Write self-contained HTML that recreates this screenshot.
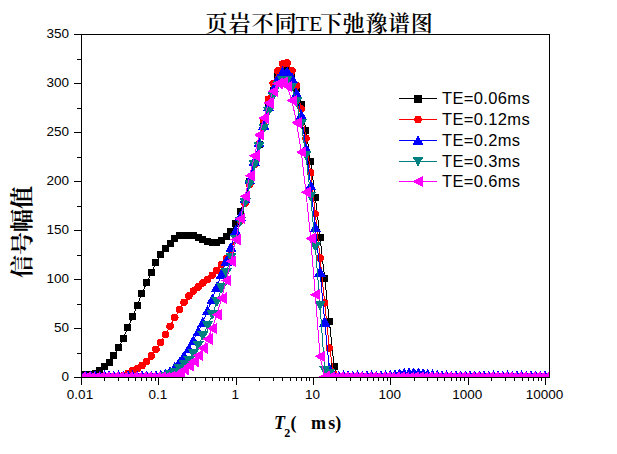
<!DOCTYPE html>
<html><head><meta charset="utf-8"><style>
html,body{margin:0;padding:0;background:#fff;}
body{width:617px;height:454px;overflow:hidden;}
svg{display:block;}
.tl{font-family:"Liberation Sans",Arial,sans-serif;font-size:13.5px;fill:#000;}
.lg{font-family:"Liberation Sans",Arial,sans-serif;font-size:16.5px;letter-spacing:0.35px;fill:#000;}
.ti{font-family:"Liberation Serif","Noto Serif CJK SC",serif;font-size:22px;font-weight:600;fill:#000;}
.yl{font-family:"Liberation Serif","Noto Serif CJK SC",serif;font-size:23px;font-weight:bold;fill:#000;}
.xl{font-family:"Liberation Serif","Noto Serif CJK SC",serif;font-size:18px;font-weight:bold;fill:#000;}
</style></head><body>
<svg width="617" height="454" viewBox="0 0 617 454">
<rect width="617" height="454" fill="#fff"/>
<defs><clipPath id="pa"><rect x="81" y="34" width="469" height="343.5"/></clipPath></defs>
<g clip-path="url(#pa)" shape-rendering="crispEdges">
<polyline points="81.00,374.56 85.69,374.46 90.37,374.17 95.06,373.38 99.75,370.64 104.43,366.62 109.12,362.11 113.81,355.45 118.49,347.51 123.18,338.50 127.87,327.91 132.56,316.84 137.24,305.37 141.93,293.22 146.62,282.93 151.30,272.64 155.99,262.84 160.68,254.41 165.36,248.14 170.05,243.24 174.74,238.73 179.42,235.89 184.11,235.11 188.80,235.11 193.48,235.89 198.17,237.36 202.86,239.32 207.55,241.77 212.23,242.75 216.92,242.46 221.61,240.30 226.29,236.38 230.98,231.48 235.67,223.64 240.35,211.88 245.04,198.16 249.73,181.50 254.41,163.86 259.10,144.26 263.79,125.64 268.47,107.02 273.16,90.36 277.85,76.64 282.54,70.76 287.22,70.76 291.91,76.64 296.60,88.40 301.28,104.08 305.97,130.54 310.66,161.90 315.34,197.18 320.03,237.36 324.72,278.52 329.40,321.64 334.09,366.72 338.78,376.52 343.46,378.48 348.15,378.48 352.84,378.48 357.53,378.48 362.21,378.48 366.90,378.48 371.59,378.48 376.27,378.48 380.96,378.48 385.65,378.48 390.33,378.48 395.02,378.48 399.71,378.48 404.39,378.48 409.08,378.48 413.77,378.48 418.45,378.48 423.14,378.48 427.83,378.48 432.52,378.48 437.20,378.48 441.89,378.48 446.58,378.48 451.26,378.48 455.95,378.48 460.64,378.48 465.32,378.48 470.01,378.48 474.70,378.48 479.38,378.48 484.07,378.48 488.76,378.48 493.44,378.48 498.13,378.48 502.82,378.48 507.51,378.48 512.19,378.48 516.88,378.48 521.57,378.48 526.25,378.48 530.94,378.48 535.63,378.48 540.31,378.48 545.00,378.48" fill="none" stroke="#000000" stroke-width="1"/>
<rect x="77.50" y="371.06" width="7" height="7" fill="#000000"/>
<rect x="82.19" y="370.96" width="7" height="7" fill="#000000"/>
<rect x="86.87" y="370.67" width="7" height="7" fill="#000000"/>
<rect x="91.56" y="369.88" width="7" height="7" fill="#000000"/>
<rect x="96.25" y="367.14" width="7" height="7" fill="#000000"/>
<rect x="100.93" y="363.12" width="7" height="7" fill="#000000"/>
<rect x="105.62" y="358.61" width="7" height="7" fill="#000000"/>
<rect x="110.31" y="351.95" width="7" height="7" fill="#000000"/>
<rect x="114.99" y="344.01" width="7" height="7" fill="#000000"/>
<rect x="119.68" y="335.00" width="7" height="7" fill="#000000"/>
<rect x="124.37" y="324.41" width="7" height="7" fill="#000000"/>
<rect x="129.06" y="313.34" width="7" height="7" fill="#000000"/>
<rect x="133.74" y="301.87" width="7" height="7" fill="#000000"/>
<rect x="138.43" y="289.72" width="7" height="7" fill="#000000"/>
<rect x="143.12" y="279.43" width="7" height="7" fill="#000000"/>
<rect x="147.80" y="269.14" width="7" height="7" fill="#000000"/>
<rect x="152.49" y="259.34" width="7" height="7" fill="#000000"/>
<rect x="157.18" y="250.91" width="7" height="7" fill="#000000"/>
<rect x="161.86" y="244.64" width="7" height="7" fill="#000000"/>
<rect x="166.55" y="239.74" width="7" height="7" fill="#000000"/>
<rect x="171.24" y="235.23" width="7" height="7" fill="#000000"/>
<rect x="175.92" y="232.39" width="7" height="7" fill="#000000"/>
<rect x="180.61" y="231.61" width="7" height="7" fill="#000000"/>
<rect x="185.30" y="231.61" width="7" height="7" fill="#000000"/>
<rect x="189.98" y="232.39" width="7" height="7" fill="#000000"/>
<rect x="194.67" y="233.86" width="7" height="7" fill="#000000"/>
<rect x="199.36" y="235.82" width="7" height="7" fill="#000000"/>
<rect x="204.05" y="238.27" width="7" height="7" fill="#000000"/>
<rect x="208.73" y="239.25" width="7" height="7" fill="#000000"/>
<rect x="213.42" y="238.96" width="7" height="7" fill="#000000"/>
<rect x="218.11" y="236.80" width="7" height="7" fill="#000000"/>
<rect x="222.79" y="232.88" width="7" height="7" fill="#000000"/>
<rect x="227.48" y="227.98" width="7" height="7" fill="#000000"/>
<rect x="232.17" y="220.14" width="7" height="7" fill="#000000"/>
<rect x="236.85" y="208.38" width="7" height="7" fill="#000000"/>
<rect x="241.54" y="194.66" width="7" height="7" fill="#000000"/>
<rect x="246.23" y="178.00" width="7" height="7" fill="#000000"/>
<rect x="250.91" y="160.36" width="7" height="7" fill="#000000"/>
<rect x="255.60" y="140.76" width="7" height="7" fill="#000000"/>
<rect x="260.29" y="122.14" width="7" height="7" fill="#000000"/>
<rect x="264.97" y="103.52" width="7" height="7" fill="#000000"/>
<rect x="269.66" y="86.86" width="7" height="7" fill="#000000"/>
<rect x="274.35" y="73.14" width="7" height="7" fill="#000000"/>
<rect x="279.04" y="67.26" width="7" height="7" fill="#000000"/>
<rect x="283.72" y="67.26" width="7" height="7" fill="#000000"/>
<rect x="288.41" y="73.14" width="7" height="7" fill="#000000"/>
<rect x="293.10" y="84.90" width="7" height="7" fill="#000000"/>
<rect x="297.78" y="100.58" width="7" height="7" fill="#000000"/>
<rect x="302.47" y="127.04" width="7" height="7" fill="#000000"/>
<rect x="307.16" y="158.40" width="7" height="7" fill="#000000"/>
<rect x="311.84" y="193.68" width="7" height="7" fill="#000000"/>
<rect x="316.53" y="233.86" width="7" height="7" fill="#000000"/>
<rect x="321.22" y="275.02" width="7" height="7" fill="#000000"/>
<rect x="325.90" y="318.14" width="7" height="7" fill="#000000"/>
<rect x="330.59" y="363.22" width="7" height="7" fill="#000000"/>
<rect x="335.28" y="373.02" width="7" height="7" fill="#000000"/>
<rect x="339.96" y="374.98" width="7" height="7" fill="#000000"/>
<rect x="344.65" y="374.98" width="7" height="7" fill="#000000"/>
<rect x="349.34" y="374.98" width="7" height="7" fill="#000000"/>
<rect x="354.03" y="374.98" width="7" height="7" fill="#000000"/>
<rect x="358.71" y="374.98" width="7" height="7" fill="#000000"/>
<rect x="363.40" y="374.98" width="7" height="7" fill="#000000"/>
<rect x="368.09" y="374.98" width="7" height="7" fill="#000000"/>
<rect x="372.77" y="374.98" width="7" height="7" fill="#000000"/>
<rect x="377.46" y="374.98" width="7" height="7" fill="#000000"/>
<rect x="382.15" y="374.98" width="7" height="7" fill="#000000"/>
<rect x="386.83" y="374.98" width="7" height="7" fill="#000000"/>
<rect x="391.52" y="374.98" width="7" height="7" fill="#000000"/>
<rect x="396.21" y="374.98" width="7" height="7" fill="#000000"/>
<rect x="400.89" y="374.98" width="7" height="7" fill="#000000"/>
<rect x="405.58" y="374.98" width="7" height="7" fill="#000000"/>
<rect x="410.27" y="374.98" width="7" height="7" fill="#000000"/>
<rect x="414.95" y="374.98" width="7" height="7" fill="#000000"/>
<rect x="419.64" y="374.98" width="7" height="7" fill="#000000"/>
<rect x="424.33" y="374.98" width="7" height="7" fill="#000000"/>
<rect x="429.02" y="374.98" width="7" height="7" fill="#000000"/>
<rect x="433.70" y="374.98" width="7" height="7" fill="#000000"/>
<rect x="438.39" y="374.98" width="7" height="7" fill="#000000"/>
<rect x="443.08" y="374.98" width="7" height="7" fill="#000000"/>
<rect x="447.76" y="374.98" width="7" height="7" fill="#000000"/>
<rect x="452.45" y="374.98" width="7" height="7" fill="#000000"/>
<rect x="457.14" y="374.98" width="7" height="7" fill="#000000"/>
<rect x="461.82" y="374.98" width="7" height="7" fill="#000000"/>
<rect x="466.51" y="374.98" width="7" height="7" fill="#000000"/>
<rect x="471.20" y="374.98" width="7" height="7" fill="#000000"/>
<rect x="475.88" y="374.98" width="7" height="7" fill="#000000"/>
<rect x="480.57" y="374.98" width="7" height="7" fill="#000000"/>
<rect x="485.26" y="374.98" width="7" height="7" fill="#000000"/>
<rect x="489.94" y="374.98" width="7" height="7" fill="#000000"/>
<rect x="494.63" y="374.98" width="7" height="7" fill="#000000"/>
<rect x="499.32" y="374.98" width="7" height="7" fill="#000000"/>
<rect x="504.01" y="374.98" width="7" height="7" fill="#000000"/>
<rect x="508.69" y="374.98" width="7" height="7" fill="#000000"/>
<rect x="513.38" y="374.98" width="7" height="7" fill="#000000"/>
<rect x="518.07" y="374.98" width="7" height="7" fill="#000000"/>
<rect x="522.75" y="374.98" width="7" height="7" fill="#000000"/>
<rect x="527.44" y="374.98" width="7" height="7" fill="#000000"/>
<rect x="532.13" y="374.98" width="7" height="7" fill="#000000"/>
<rect x="536.81" y="374.98" width="7" height="7" fill="#000000"/>
<rect x="541.50" y="374.98" width="7" height="7" fill="#000000"/>
<polyline points="81.00,378.48 85.69,378.48 90.37,378.48 95.06,378.48 99.75,378.48 104.43,378.48 109.12,378.48 113.81,378.48 118.49,378.48 123.18,376.03 127.87,373.58 132.56,370.84 137.24,368.78 141.93,365.54 146.62,361.53 151.30,355.94 155.99,349.28 160.68,342.32 165.36,334.38 170.05,326.25 174.74,317.52 179.42,309.68 184.11,302.33 188.80,295.96 193.48,290.97 198.17,286.95 202.86,282.83 207.55,279.50 212.23,275.29 216.92,270.39 221.61,264.60 226.29,258.92 230.98,250.10 235.67,237.36 240.35,220.70 245.04,203.06 249.73,184.44 254.41,164.84 259.10,144.26 263.79,120.74 268.47,99.18 273.16,83.50 277.85,70.76 282.54,63.90 287.22,62.92 291.91,70.76 296.60,85.46 301.28,108.98 305.97,138.38 310.66,172.68 315.34,213.84 320.03,257.94 324.72,303.02 329.40,348.10 334.09,374.56 338.78,378.48 343.46,378.48 348.15,378.48 352.84,378.48 357.53,378.48 362.21,378.48 366.90,378.48 371.59,378.48 376.27,378.48 380.96,378.48 385.65,378.48 390.33,378.48 395.02,378.48 399.71,378.48 404.39,378.48 409.08,378.48 413.77,378.48 418.45,378.48 423.14,378.48 427.83,378.48 432.52,378.48 437.20,378.48 441.89,378.48 446.58,378.48 451.26,378.48 455.95,378.48 460.64,378.48 465.32,378.48 470.01,378.48 474.70,378.48 479.38,378.48 484.07,378.48 488.76,378.48 493.44,378.48 498.13,378.48 502.82,378.48 507.51,378.48 512.19,378.48 516.88,378.48 521.57,378.48 526.25,378.48 530.94,378.48 535.63,378.48 540.31,378.48 545.00,378.48" fill="none" stroke="#ff0000" stroke-width="1"/>
<circle cx="81.00" cy="378.48" r="3.8" fill="#ff0000"/>
<circle cx="85.69" cy="378.48" r="3.8" fill="#ff0000"/>
<circle cx="90.37" cy="378.48" r="3.8" fill="#ff0000"/>
<circle cx="95.06" cy="378.48" r="3.8" fill="#ff0000"/>
<circle cx="99.75" cy="378.48" r="3.8" fill="#ff0000"/>
<circle cx="104.43" cy="378.48" r="3.8" fill="#ff0000"/>
<circle cx="109.12" cy="378.48" r="3.8" fill="#ff0000"/>
<circle cx="113.81" cy="378.48" r="3.8" fill="#ff0000"/>
<circle cx="118.49" cy="378.48" r="3.8" fill="#ff0000"/>
<circle cx="123.18" cy="376.03" r="3.8" fill="#ff0000"/>
<circle cx="127.87" cy="373.58" r="3.8" fill="#ff0000"/>
<circle cx="132.56" cy="370.84" r="3.8" fill="#ff0000"/>
<circle cx="137.24" cy="368.78" r="3.8" fill="#ff0000"/>
<circle cx="141.93" cy="365.54" r="3.8" fill="#ff0000"/>
<circle cx="146.62" cy="361.53" r="3.8" fill="#ff0000"/>
<circle cx="151.30" cy="355.94" r="3.8" fill="#ff0000"/>
<circle cx="155.99" cy="349.28" r="3.8" fill="#ff0000"/>
<circle cx="160.68" cy="342.32" r="3.8" fill="#ff0000"/>
<circle cx="165.36" cy="334.38" r="3.8" fill="#ff0000"/>
<circle cx="170.05" cy="326.25" r="3.8" fill="#ff0000"/>
<circle cx="174.74" cy="317.52" r="3.8" fill="#ff0000"/>
<circle cx="179.42" cy="309.68" r="3.8" fill="#ff0000"/>
<circle cx="184.11" cy="302.33" r="3.8" fill="#ff0000"/>
<circle cx="188.80" cy="295.96" r="3.8" fill="#ff0000"/>
<circle cx="193.48" cy="290.97" r="3.8" fill="#ff0000"/>
<circle cx="198.17" cy="286.95" r="3.8" fill="#ff0000"/>
<circle cx="202.86" cy="282.83" r="3.8" fill="#ff0000"/>
<circle cx="207.55" cy="279.50" r="3.8" fill="#ff0000"/>
<circle cx="212.23" cy="275.29" r="3.8" fill="#ff0000"/>
<circle cx="216.92" cy="270.39" r="3.8" fill="#ff0000"/>
<circle cx="221.61" cy="264.60" r="3.8" fill="#ff0000"/>
<circle cx="226.29" cy="258.92" r="3.8" fill="#ff0000"/>
<circle cx="230.98" cy="250.10" r="3.8" fill="#ff0000"/>
<circle cx="235.67" cy="237.36" r="3.8" fill="#ff0000"/>
<circle cx="240.35" cy="220.70" r="3.8" fill="#ff0000"/>
<circle cx="245.04" cy="203.06" r="3.8" fill="#ff0000"/>
<circle cx="249.73" cy="184.44" r="3.8" fill="#ff0000"/>
<circle cx="254.41" cy="164.84" r="3.8" fill="#ff0000"/>
<circle cx="259.10" cy="144.26" r="3.8" fill="#ff0000"/>
<circle cx="263.79" cy="120.74" r="3.8" fill="#ff0000"/>
<circle cx="268.47" cy="99.18" r="3.8" fill="#ff0000"/>
<circle cx="273.16" cy="83.50" r="3.8" fill="#ff0000"/>
<circle cx="277.85" cy="70.76" r="3.8" fill="#ff0000"/>
<circle cx="282.54" cy="63.90" r="3.8" fill="#ff0000"/>
<circle cx="287.22" cy="62.92" r="3.8" fill="#ff0000"/>
<circle cx="291.91" cy="70.76" r="3.8" fill="#ff0000"/>
<circle cx="296.60" cy="85.46" r="3.8" fill="#ff0000"/>
<circle cx="301.28" cy="108.98" r="3.8" fill="#ff0000"/>
<circle cx="305.97" cy="138.38" r="3.8" fill="#ff0000"/>
<circle cx="310.66" cy="172.68" r="3.8" fill="#ff0000"/>
<circle cx="315.34" cy="213.84" r="3.8" fill="#ff0000"/>
<circle cx="320.03" cy="257.94" r="3.8" fill="#ff0000"/>
<circle cx="324.72" cy="303.02" r="3.8" fill="#ff0000"/>
<circle cx="329.40" cy="348.10" r="3.8" fill="#ff0000"/>
<circle cx="334.09" cy="374.56" r="3.8" fill="#ff0000"/>
<circle cx="338.78" cy="378.48" r="3.8" fill="#ff0000"/>
<circle cx="343.46" cy="378.48" r="3.8" fill="#ff0000"/>
<circle cx="348.15" cy="378.48" r="3.8" fill="#ff0000"/>
<circle cx="352.84" cy="378.48" r="3.8" fill="#ff0000"/>
<circle cx="357.53" cy="378.48" r="3.8" fill="#ff0000"/>
<circle cx="362.21" cy="378.48" r="3.8" fill="#ff0000"/>
<circle cx="366.90" cy="378.48" r="3.8" fill="#ff0000"/>
<circle cx="371.59" cy="378.48" r="3.8" fill="#ff0000"/>
<circle cx="376.27" cy="378.48" r="3.8" fill="#ff0000"/>
<circle cx="380.96" cy="378.48" r="3.8" fill="#ff0000"/>
<circle cx="385.65" cy="378.48" r="3.8" fill="#ff0000"/>
<circle cx="390.33" cy="378.48" r="3.8" fill="#ff0000"/>
<circle cx="395.02" cy="378.48" r="3.8" fill="#ff0000"/>
<circle cx="399.71" cy="378.48" r="3.8" fill="#ff0000"/>
<circle cx="404.39" cy="378.48" r="3.8" fill="#ff0000"/>
<circle cx="409.08" cy="378.48" r="3.8" fill="#ff0000"/>
<circle cx="413.77" cy="378.48" r="3.8" fill="#ff0000"/>
<circle cx="418.45" cy="378.48" r="3.8" fill="#ff0000"/>
<circle cx="423.14" cy="378.48" r="3.8" fill="#ff0000"/>
<circle cx="427.83" cy="378.48" r="3.8" fill="#ff0000"/>
<circle cx="432.52" cy="378.48" r="3.8" fill="#ff0000"/>
<circle cx="437.20" cy="378.48" r="3.8" fill="#ff0000"/>
<circle cx="441.89" cy="378.48" r="3.8" fill="#ff0000"/>
<circle cx="446.58" cy="378.48" r="3.8" fill="#ff0000"/>
<circle cx="451.26" cy="378.48" r="3.8" fill="#ff0000"/>
<circle cx="455.95" cy="378.48" r="3.8" fill="#ff0000"/>
<circle cx="460.64" cy="378.48" r="3.8" fill="#ff0000"/>
<circle cx="465.32" cy="378.48" r="3.8" fill="#ff0000"/>
<circle cx="470.01" cy="378.48" r="3.8" fill="#ff0000"/>
<circle cx="474.70" cy="378.48" r="3.8" fill="#ff0000"/>
<circle cx="479.38" cy="378.48" r="3.8" fill="#ff0000"/>
<circle cx="484.07" cy="378.48" r="3.8" fill="#ff0000"/>
<circle cx="488.76" cy="378.48" r="3.8" fill="#ff0000"/>
<circle cx="493.44" cy="378.48" r="3.8" fill="#ff0000"/>
<circle cx="498.13" cy="378.48" r="3.8" fill="#ff0000"/>
<circle cx="502.82" cy="378.48" r="3.8" fill="#ff0000"/>
<circle cx="507.51" cy="378.48" r="3.8" fill="#ff0000"/>
<circle cx="512.19" cy="378.48" r="3.8" fill="#ff0000"/>
<circle cx="516.88" cy="378.48" r="3.8" fill="#ff0000"/>
<circle cx="521.57" cy="378.48" r="3.8" fill="#ff0000"/>
<circle cx="526.25" cy="378.48" r="3.8" fill="#ff0000"/>
<circle cx="530.94" cy="378.48" r="3.8" fill="#ff0000"/>
<circle cx="535.63" cy="378.48" r="3.8" fill="#ff0000"/>
<circle cx="540.31" cy="378.48" r="3.8" fill="#ff0000"/>
<circle cx="545.00" cy="378.48" r="3.8" fill="#ff0000"/>
<polyline points="81.00,375.74 85.69,375.74 90.37,375.74 95.06,375.74 99.75,375.74 104.43,375.74 109.12,375.74 113.81,375.74 118.49,375.74 123.18,375.74 127.87,375.74 132.56,375.74 137.24,375.74 141.93,375.74 146.62,375.74 151.30,375.74 155.99,375.74 160.68,375.34 165.36,374.07 170.05,371.13 174.74,367.21 179.42,362.31 184.11,355.94 188.80,348.59 193.48,340.26 198.17,331.44 202.86,322.13 207.55,310.47 212.23,299.10 216.92,286.75 221.61,273.62 226.29,260.88 230.98,247.16 235.67,230.50 240.35,215.80 245.04,198.16 249.73,179.54 254.41,160.92 259.10,142.30 263.79,124.66 268.47,106.04 273.16,89.38 277.85,78.60 282.54,71.74 287.22,71.74 291.91,77.62 296.60,93.30 301.28,114.86 305.97,148.18 310.66,185.42 315.34,227.56 320.03,271.66 324.72,321.64 329.40,368.68 334.09,375.74 338.78,375.74 343.46,375.74 348.15,375.74 352.84,375.74 357.53,375.74 362.21,375.74 366.90,375.74 371.59,375.74 376.27,375.74 380.96,375.74 385.65,375.43 390.33,374.85 395.02,374.21 399.71,373.58 404.39,373.13 409.08,372.80 413.77,372.60 418.45,372.80 423.14,373.31 427.83,373.97 432.52,374.56 437.20,375.15 441.89,375.74 446.58,375.74 451.26,375.74 455.95,375.74 460.64,375.74 465.32,375.74 470.01,375.74 474.70,375.74 479.38,375.74 484.07,375.74 488.76,375.74 493.44,375.74 498.13,375.74 502.82,375.74 507.51,375.74 512.19,375.74 516.88,375.74 521.57,375.74 526.25,375.74 530.94,375.74 535.63,375.74 540.31,375.74 545.00,375.74" fill="none" stroke="#0000ff" stroke-width="1"/>
<path d="M81.00 370.34L86.70 380.64L75.30 380.64Z" fill="#0000ff"/>
<path d="M85.69 370.34L91.39 380.64L79.99 380.64Z" fill="#0000ff"/>
<path d="M90.37 370.34L96.07 380.64L84.67 380.64Z" fill="#0000ff"/>
<path d="M95.06 370.34L100.76 380.64L89.36 380.64Z" fill="#0000ff"/>
<path d="M99.75 370.34L105.45 380.64L94.05 380.64Z" fill="#0000ff"/>
<path d="M104.43 370.34L110.13 380.64L98.73 380.64Z" fill="#0000ff"/>
<path d="M109.12 370.34L114.82 380.64L103.42 380.64Z" fill="#0000ff"/>
<path d="M113.81 370.34L119.51 380.64L108.11 380.64Z" fill="#0000ff"/>
<path d="M118.49 370.34L124.19 380.64L112.79 380.64Z" fill="#0000ff"/>
<path d="M123.18 370.34L128.88 380.64L117.48 380.64Z" fill="#0000ff"/>
<path d="M127.87 370.34L133.57 380.64L122.17 380.64Z" fill="#0000ff"/>
<path d="M132.56 370.34L138.26 380.64L126.86 380.64Z" fill="#0000ff"/>
<path d="M137.24 370.34L142.94 380.64L131.54 380.64Z" fill="#0000ff"/>
<path d="M141.93 370.34L147.63 380.64L136.23 380.64Z" fill="#0000ff"/>
<path d="M146.62 370.34L152.32 380.64L140.92 380.64Z" fill="#0000ff"/>
<path d="M151.30 370.34L157.00 380.64L145.60 380.64Z" fill="#0000ff"/>
<path d="M155.99 370.34L161.69 380.64L150.29 380.64Z" fill="#0000ff"/>
<path d="M160.68 369.94L166.38 380.24L154.98 380.24Z" fill="#0000ff"/>
<path d="M165.36 368.67L171.06 378.97L159.66 378.97Z" fill="#0000ff"/>
<path d="M170.05 365.73L175.75 376.03L164.35 376.03Z" fill="#0000ff"/>
<path d="M174.74 361.81L180.44 372.11L169.04 372.11Z" fill="#0000ff"/>
<path d="M179.42 356.91L185.12 367.21L173.72 367.21Z" fill="#0000ff"/>
<path d="M184.11 350.54L189.81 360.84L178.41 360.84Z" fill="#0000ff"/>
<path d="M188.80 343.19L194.50 353.49L183.10 353.49Z" fill="#0000ff"/>
<path d="M193.48 334.86L199.18 345.16L187.78 345.16Z" fill="#0000ff"/>
<path d="M198.17 326.04L203.87 336.34L192.47 336.34Z" fill="#0000ff"/>
<path d="M202.86 316.73L208.56 327.03L197.16 327.03Z" fill="#0000ff"/>
<path d="M207.55 305.07L213.25 315.37L201.85 315.37Z" fill="#0000ff"/>
<path d="M212.23 293.70L217.93 304.00L206.53 304.00Z" fill="#0000ff"/>
<path d="M216.92 281.35L222.62 291.65L211.22 291.65Z" fill="#0000ff"/>
<path d="M221.61 268.22L227.31 278.52L215.91 278.52Z" fill="#0000ff"/>
<path d="M226.29 255.48L231.99 265.78L220.59 265.78Z" fill="#0000ff"/>
<path d="M230.98 241.76L236.68 252.06L225.28 252.06Z" fill="#0000ff"/>
<path d="M235.67 225.10L241.37 235.40L229.97 235.40Z" fill="#0000ff"/>
<path d="M240.35 210.40L246.05 220.70L234.65 220.70Z" fill="#0000ff"/>
<path d="M245.04 192.76L250.74 203.06L239.34 203.06Z" fill="#0000ff"/>
<path d="M249.73 174.14L255.43 184.44L244.03 184.44Z" fill="#0000ff"/>
<path d="M254.41 155.52L260.11 165.82L248.71 165.82Z" fill="#0000ff"/>
<path d="M259.10 136.90L264.80 147.20L253.40 147.20Z" fill="#0000ff"/>
<path d="M263.79 119.26L269.49 129.56L258.09 129.56Z" fill="#0000ff"/>
<path d="M268.47 100.64L274.17 110.94L262.77 110.94Z" fill="#0000ff"/>
<path d="M273.16 83.98L278.86 94.28L267.46 94.28Z" fill="#0000ff"/>
<path d="M277.85 73.20L283.55 83.50L272.15 83.50Z" fill="#0000ff"/>
<path d="M282.54 66.34L288.24 76.64L276.84 76.64Z" fill="#0000ff"/>
<path d="M287.22 66.34L292.92 76.64L281.52 76.64Z" fill="#0000ff"/>
<path d="M291.91 72.22L297.61 82.52L286.21 82.52Z" fill="#0000ff"/>
<path d="M296.60 87.90L302.30 98.20L290.90 98.20Z" fill="#0000ff"/>
<path d="M301.28 109.46L306.98 119.76L295.58 119.76Z" fill="#0000ff"/>
<path d="M305.97 142.78L311.67 153.08L300.27 153.08Z" fill="#0000ff"/>
<path d="M310.66 180.02L316.36 190.32L304.96 190.32Z" fill="#0000ff"/>
<path d="M315.34 222.16L321.04 232.46L309.64 232.46Z" fill="#0000ff"/>
<path d="M320.03 266.26L325.73 276.56L314.33 276.56Z" fill="#0000ff"/>
<path d="M324.72 316.24L330.42 326.54L319.02 326.54Z" fill="#0000ff"/>
<path d="M329.40 363.28L335.10 373.58L323.70 373.58Z" fill="#0000ff"/>
<path d="M334.09 370.34L339.79 380.64L328.39 380.64Z" fill="#0000ff"/>
<path d="M338.78 370.34L344.48 380.64L333.08 380.64Z" fill="#0000ff"/>
<path d="M343.46 370.34L349.16 380.64L337.76 380.64Z" fill="#0000ff"/>
<path d="M348.15 370.34L353.85 380.64L342.45 380.64Z" fill="#0000ff"/>
<path d="M352.84 370.34L358.54 380.64L347.14 380.64Z" fill="#0000ff"/>
<path d="M357.53 370.34L363.23 380.64L351.83 380.64Z" fill="#0000ff"/>
<path d="M362.21 370.34L367.91 380.64L356.51 380.64Z" fill="#0000ff"/>
<path d="M366.90 370.34L372.60 380.64L361.20 380.64Z" fill="#0000ff"/>
<path d="M371.59 370.34L377.29 380.64L365.89 380.64Z" fill="#0000ff"/>
<path d="M376.27 370.34L381.97 380.64L370.57 380.64Z" fill="#0000ff"/>
<path d="M380.96 370.34L386.66 380.64L375.26 380.64Z" fill="#0000ff"/>
<path d="M385.65 370.03L391.35 380.33L379.95 380.33Z" fill="#0000ff"/>
<path d="M390.33 369.45L396.03 379.75L384.63 379.75Z" fill="#0000ff"/>
<path d="M395.02 368.81L400.72 379.11L389.32 379.11Z" fill="#0000ff"/>
<path d="M399.71 368.18L405.41 378.48L394.01 378.48Z" fill="#0000ff"/>
<path d="M404.39 367.73L410.09 378.03L398.69 378.03Z" fill="#0000ff"/>
<path d="M409.08 367.40L414.78 377.70L403.38 377.70Z" fill="#0000ff"/>
<path d="M413.77 367.20L419.47 377.50L408.07 377.50Z" fill="#0000ff"/>
<path d="M418.45 367.40L424.15 377.70L412.75 377.70Z" fill="#0000ff"/>
<path d="M423.14 367.91L428.84 378.21L417.44 378.21Z" fill="#0000ff"/>
<path d="M427.83 368.57L433.53 378.87L422.13 378.87Z" fill="#0000ff"/>
<path d="M432.52 369.16L438.22 379.46L426.82 379.46Z" fill="#0000ff"/>
<path d="M437.20 369.75L442.90 380.05L431.50 380.05Z" fill="#0000ff"/>
<path d="M441.89 370.34L447.59 380.64L436.19 380.64Z" fill="#0000ff"/>
<path d="M446.58 370.34L452.28 380.64L440.88 380.64Z" fill="#0000ff"/>
<path d="M451.26 370.34L456.96 380.64L445.56 380.64Z" fill="#0000ff"/>
<path d="M455.95 370.34L461.65 380.64L450.25 380.64Z" fill="#0000ff"/>
<path d="M460.64 370.34L466.34 380.64L454.94 380.64Z" fill="#0000ff"/>
<path d="M465.32 370.34L471.02 380.64L459.62 380.64Z" fill="#0000ff"/>
<path d="M470.01 370.34L475.71 380.64L464.31 380.64Z" fill="#0000ff"/>
<path d="M474.70 370.34L480.40 380.64L469.00 380.64Z" fill="#0000ff"/>
<path d="M479.38 370.34L485.08 380.64L473.68 380.64Z" fill="#0000ff"/>
<path d="M484.07 370.34L489.77 380.64L478.37 380.64Z" fill="#0000ff"/>
<path d="M488.76 370.34L494.46 380.64L483.06 380.64Z" fill="#0000ff"/>
<path d="M493.44 370.34L499.14 380.64L487.74 380.64Z" fill="#0000ff"/>
<path d="M498.13 370.34L503.83 380.64L492.43 380.64Z" fill="#0000ff"/>
<path d="M502.82 370.34L508.52 380.64L497.12 380.64Z" fill="#0000ff"/>
<path d="M507.51 370.34L513.21 380.64L501.81 380.64Z" fill="#0000ff"/>
<path d="M512.19 370.34L517.89 380.64L506.49 380.64Z" fill="#0000ff"/>
<path d="M516.88 370.34L522.58 380.64L511.18 380.64Z" fill="#0000ff"/>
<path d="M521.57 370.34L527.27 380.64L515.87 380.64Z" fill="#0000ff"/>
<path d="M526.25 370.34L531.95 380.64L520.55 380.64Z" fill="#0000ff"/>
<path d="M530.94 370.34L536.64 380.64L525.24 380.64Z" fill="#0000ff"/>
<path d="M535.63 370.34L541.33 380.64L529.93 380.64Z" fill="#0000ff"/>
<path d="M540.31 370.34L546.01 380.64L534.61 380.64Z" fill="#0000ff"/>
<path d="M545.00 370.34L550.70 380.64L539.30 380.64Z" fill="#0000ff"/>
<polyline points="81.00,378.97 85.69,378.97 90.37,378.97 95.06,378.97 99.75,378.97 104.43,378.97 109.12,378.97 113.81,378.97 118.49,378.97 123.18,378.97 127.87,378.97 132.56,378.97 137.24,378.97 141.93,378.97 146.62,378.97 151.30,378.97 155.99,378.97 160.68,378.97 165.36,377.01 170.05,375.05 174.74,372.60 179.42,369.17 184.11,364.76 188.80,360.84 193.48,353.98 198.17,345.85 202.86,335.95 207.55,325.95 212.23,314.98 216.92,302.04 221.61,288.32 226.29,273.03 230.98,257.45 235.67,239.52 240.35,221.68 245.04,203.06 249.73,184.44 254.41,165.23 259.10,146.61 263.79,128.58 268.47,111.92 273.16,96.24 277.85,85.46 282.54,80.56 287.22,80.56 291.91,87.42 296.60,102.12 301.28,124.17 305.97,155.73 310.66,196.69 315.34,246.87 320.03,305.67 324.72,370.64 329.40,374.07 334.09,378.97 338.78,378.97 343.46,378.97 348.15,378.97 352.84,378.97 357.53,378.97 362.21,378.97 366.90,378.97 371.59,378.97 376.27,378.97 380.96,378.97 385.65,378.97 390.33,378.97 395.02,378.97 399.71,378.97 404.39,378.97 409.08,378.97 413.77,378.97 418.45,378.97 423.14,378.97 427.83,378.97 432.52,378.97 437.20,378.97 441.89,378.97 446.58,378.97 451.26,378.97 455.95,378.97 460.64,378.97 465.32,378.97 470.01,378.97 474.70,378.97 479.38,378.97 484.07,378.97 488.76,378.97 493.44,378.97 498.13,378.97 502.82,378.97 507.51,378.97 512.19,378.97 516.88,378.97 521.57,378.97 526.25,378.97 530.94,378.97 535.63,378.97 540.31,378.97 545.00,378.97" fill="none" stroke="#008080" stroke-width="1"/>
<path d="M75.30 374.07L86.70 374.07L81.00 383.87Z" fill="#008080"/>
<path d="M79.99 374.07L91.39 374.07L85.69 383.87Z" fill="#008080"/>
<path d="M84.67 374.07L96.07 374.07L90.37 383.87Z" fill="#008080"/>
<path d="M89.36 374.07L100.76 374.07L95.06 383.87Z" fill="#008080"/>
<path d="M94.05 374.07L105.45 374.07L99.75 383.87Z" fill="#008080"/>
<path d="M98.73 374.07L110.13 374.07L104.43 383.87Z" fill="#008080"/>
<path d="M103.42 374.07L114.82 374.07L109.12 383.87Z" fill="#008080"/>
<path d="M108.11 374.07L119.51 374.07L113.81 383.87Z" fill="#008080"/>
<path d="M112.79 374.07L124.19 374.07L118.49 383.87Z" fill="#008080"/>
<path d="M117.48 374.07L128.88 374.07L123.18 383.87Z" fill="#008080"/>
<path d="M122.17 374.07L133.57 374.07L127.87 383.87Z" fill="#008080"/>
<path d="M126.86 374.07L138.26 374.07L132.56 383.87Z" fill="#008080"/>
<path d="M131.54 374.07L142.94 374.07L137.24 383.87Z" fill="#008080"/>
<path d="M136.23 374.07L147.63 374.07L141.93 383.87Z" fill="#008080"/>
<path d="M140.92 374.07L152.32 374.07L146.62 383.87Z" fill="#008080"/>
<path d="M145.60 374.07L157.00 374.07L151.30 383.87Z" fill="#008080"/>
<path d="M150.29 374.07L161.69 374.07L155.99 383.87Z" fill="#008080"/>
<path d="M154.98 374.07L166.38 374.07L160.68 383.87Z" fill="#008080"/>
<path d="M159.66 372.11L171.06 372.11L165.36 381.91Z" fill="#008080"/>
<path d="M164.35 370.15L175.75 370.15L170.05 379.95Z" fill="#008080"/>
<path d="M169.04 367.70L180.44 367.70L174.74 377.50Z" fill="#008080"/>
<path d="M173.72 364.27L185.12 364.27L179.42 374.07Z" fill="#008080"/>
<path d="M178.41 359.86L189.81 359.86L184.11 369.66Z" fill="#008080"/>
<path d="M183.10 355.94L194.50 355.94L188.80 365.74Z" fill="#008080"/>
<path d="M187.78 349.08L199.18 349.08L193.48 358.88Z" fill="#008080"/>
<path d="M192.47 340.95L203.87 340.95L198.17 350.75Z" fill="#008080"/>
<path d="M197.16 331.05L208.56 331.05L202.86 340.85Z" fill="#008080"/>
<path d="M201.85 321.05L213.25 321.05L207.55 330.85Z" fill="#008080"/>
<path d="M206.53 310.08L217.93 310.08L212.23 319.88Z" fill="#008080"/>
<path d="M211.22 297.14L222.62 297.14L216.92 306.94Z" fill="#008080"/>
<path d="M215.91 283.42L227.31 283.42L221.61 293.22Z" fill="#008080"/>
<path d="M220.59 268.13L231.99 268.13L226.29 277.93Z" fill="#008080"/>
<path d="M225.28 252.55L236.68 252.55L230.98 262.35Z" fill="#008080"/>
<path d="M229.97 234.62L241.37 234.62L235.67 244.42Z" fill="#008080"/>
<path d="M234.65 216.78L246.05 216.78L240.35 226.58Z" fill="#008080"/>
<path d="M239.34 198.16L250.74 198.16L245.04 207.96Z" fill="#008080"/>
<path d="M244.03 179.54L255.43 179.54L249.73 189.34Z" fill="#008080"/>
<path d="M248.71 160.33L260.11 160.33L254.41 170.13Z" fill="#008080"/>
<path d="M253.40 141.71L264.80 141.71L259.10 151.51Z" fill="#008080"/>
<path d="M258.09 123.68L269.49 123.68L263.79 133.48Z" fill="#008080"/>
<path d="M262.77 107.02L274.17 107.02L268.47 116.82Z" fill="#008080"/>
<path d="M267.46 91.34L278.86 91.34L273.16 101.14Z" fill="#008080"/>
<path d="M272.15 80.56L283.55 80.56L277.85 90.36Z" fill="#008080"/>
<path d="M276.84 75.66L288.24 75.66L282.54 85.46Z" fill="#008080"/>
<path d="M281.52 75.66L292.92 75.66L287.22 85.46Z" fill="#008080"/>
<path d="M286.21 82.52L297.61 82.52L291.91 92.32Z" fill="#008080"/>
<path d="M290.90 97.22L302.30 97.22L296.60 107.02Z" fill="#008080"/>
<path d="M295.58 119.27L306.98 119.27L301.28 129.07Z" fill="#008080"/>
<path d="M300.27 150.83L311.67 150.83L305.97 160.63Z" fill="#008080"/>
<path d="M304.96 191.79L316.36 191.79L310.66 201.59Z" fill="#008080"/>
<path d="M309.64 241.97L321.04 241.97L315.34 251.77Z" fill="#008080"/>
<path d="M314.33 300.77L325.73 300.77L320.03 310.57Z" fill="#008080"/>
<path d="M319.02 365.74L330.42 365.74L324.72 375.54Z" fill="#008080"/>
<path d="M323.70 369.17L335.10 369.17L329.40 378.97Z" fill="#008080"/>
<path d="M328.39 374.07L339.79 374.07L334.09 383.87Z" fill="#008080"/>
<path d="M333.08 374.07L344.48 374.07L338.78 383.87Z" fill="#008080"/>
<path d="M337.76 374.07L349.16 374.07L343.46 383.87Z" fill="#008080"/>
<path d="M342.45 374.07L353.85 374.07L348.15 383.87Z" fill="#008080"/>
<path d="M347.14 374.07L358.54 374.07L352.84 383.87Z" fill="#008080"/>
<path d="M351.83 374.07L363.23 374.07L357.53 383.87Z" fill="#008080"/>
<path d="M356.51 374.07L367.91 374.07L362.21 383.87Z" fill="#008080"/>
<path d="M361.20 374.07L372.60 374.07L366.90 383.87Z" fill="#008080"/>
<path d="M365.89 374.07L377.29 374.07L371.59 383.87Z" fill="#008080"/>
<path d="M370.57 374.07L381.97 374.07L376.27 383.87Z" fill="#008080"/>
<path d="M375.26 374.07L386.66 374.07L380.96 383.87Z" fill="#008080"/>
<path d="M379.95 374.07L391.35 374.07L385.65 383.87Z" fill="#008080"/>
<path d="M384.63 374.07L396.03 374.07L390.33 383.87Z" fill="#008080"/>
<path d="M389.32 374.07L400.72 374.07L395.02 383.87Z" fill="#008080"/>
<path d="M394.01 374.07L405.41 374.07L399.71 383.87Z" fill="#008080"/>
<path d="M398.69 374.07L410.09 374.07L404.39 383.87Z" fill="#008080"/>
<path d="M403.38 374.07L414.78 374.07L409.08 383.87Z" fill="#008080"/>
<path d="M408.07 374.07L419.47 374.07L413.77 383.87Z" fill="#008080"/>
<path d="M412.75 374.07L424.15 374.07L418.45 383.87Z" fill="#008080"/>
<path d="M417.44 374.07L428.84 374.07L423.14 383.87Z" fill="#008080"/>
<path d="M422.13 374.07L433.53 374.07L427.83 383.87Z" fill="#008080"/>
<path d="M426.82 374.07L438.22 374.07L432.52 383.87Z" fill="#008080"/>
<path d="M431.50 374.07L442.90 374.07L437.20 383.87Z" fill="#008080"/>
<path d="M436.19 374.07L447.59 374.07L441.89 383.87Z" fill="#008080"/>
<path d="M440.88 374.07L452.28 374.07L446.58 383.87Z" fill="#008080"/>
<path d="M445.56 374.07L456.96 374.07L451.26 383.87Z" fill="#008080"/>
<path d="M450.25 374.07L461.65 374.07L455.95 383.87Z" fill="#008080"/>
<path d="M454.94 374.07L466.34 374.07L460.64 383.87Z" fill="#008080"/>
<path d="M459.62 374.07L471.02 374.07L465.32 383.87Z" fill="#008080"/>
<path d="M464.31 374.07L475.71 374.07L470.01 383.87Z" fill="#008080"/>
<path d="M469.00 374.07L480.40 374.07L474.70 383.87Z" fill="#008080"/>
<path d="M473.68 374.07L485.08 374.07L479.38 383.87Z" fill="#008080"/>
<path d="M478.37 374.07L489.77 374.07L484.07 383.87Z" fill="#008080"/>
<path d="M483.06 374.07L494.46 374.07L488.76 383.87Z" fill="#008080"/>
<path d="M487.74 374.07L499.14 374.07L493.44 383.87Z" fill="#008080"/>
<path d="M492.43 374.07L503.83 374.07L498.13 383.87Z" fill="#008080"/>
<path d="M497.12 374.07L508.52 374.07L502.82 383.87Z" fill="#008080"/>
<path d="M501.81 374.07L513.21 374.07L507.51 383.87Z" fill="#008080"/>
<path d="M506.49 374.07L517.89 374.07L512.19 383.87Z" fill="#008080"/>
<path d="M511.18 374.07L522.58 374.07L516.88 383.87Z" fill="#008080"/>
<path d="M515.87 374.07L527.27 374.07L521.57 383.87Z" fill="#008080"/>
<path d="M520.55 374.07L531.95 374.07L526.25 383.87Z" fill="#008080"/>
<path d="M525.24 374.07L536.64 374.07L530.94 383.87Z" fill="#008080"/>
<path d="M529.93 374.07L541.33 374.07L535.63 383.87Z" fill="#008080"/>
<path d="M534.61 374.07L546.01 374.07L540.31 383.87Z" fill="#008080"/>
<path d="M539.30 374.07L550.70 374.07L545.00 383.87Z" fill="#008080"/>
<polyline points="81.00,377.40 85.69,377.40 90.37,377.40 95.06,377.40 99.75,377.40 104.43,377.40 109.12,377.40 113.81,377.40 118.49,377.40 123.18,377.40 127.87,377.40 132.56,377.40 137.24,377.40 141.93,377.40 146.62,377.40 151.30,377.40 155.99,377.40 160.68,377.40 165.36,377.40 170.05,376.52 174.74,375.54 179.42,373.09 184.11,369.66 188.80,365.74 193.48,361.33 198.17,355.45 202.86,348.10 207.55,338.99 212.23,328.50 216.92,314.78 221.61,298.12 226.29,280.48 230.98,261.27 235.67,239.61 240.35,218.74 245.04,196.40 249.73,175.72 254.41,155.73 259.10,135.05 263.79,118.09 268.47,103.10 273.16,91.34 277.85,83.50 282.54,82.52 287.22,86.44 291.91,100.55 296.60,122.70 301.28,152.10 305.97,192.28 310.66,238.34 315.34,294.69 320.03,356.43 324.72,376.52 329.40,377.40 334.09,377.40 338.78,377.40 343.46,377.40 348.15,377.40 352.84,377.40 357.53,377.40 362.21,377.40 366.90,377.40 371.59,377.40 376.27,377.40 380.96,377.40 385.65,377.40 390.33,377.40 395.02,377.40 399.71,377.40 404.39,377.40 409.08,377.40 413.77,377.40 418.45,377.40 423.14,377.40 427.83,377.40 432.52,377.40 437.20,377.40 441.89,377.40 446.58,377.40 451.26,377.40 455.95,377.40 460.64,377.40 465.32,377.40 470.01,377.40 474.70,377.40 479.38,377.40 484.07,377.40 488.76,377.40 493.44,377.40 498.13,377.40 502.82,377.40 507.51,377.40 512.19,377.40 516.88,377.40 521.57,377.40 526.25,377.40 530.94,377.40 535.63,377.40 540.31,377.40 545.00,377.40" fill="none" stroke="#ff00ff" stroke-width="1"/>
<path d="M75.60 377.40L86.10 371.60L86.10 383.20Z" fill="#ff00ff"/>
<path d="M80.29 377.40L90.79 371.60L90.79 383.20Z" fill="#ff00ff"/>
<path d="M84.97 377.40L95.47 371.60L95.47 383.20Z" fill="#ff00ff"/>
<path d="M89.66 377.40L100.16 371.60L100.16 383.20Z" fill="#ff00ff"/>
<path d="M94.35 377.40L104.85 371.60L104.85 383.20Z" fill="#ff00ff"/>
<path d="M99.03 377.40L109.53 371.60L109.53 383.20Z" fill="#ff00ff"/>
<path d="M103.72 377.40L114.22 371.60L114.22 383.20Z" fill="#ff00ff"/>
<path d="M108.41 377.40L118.91 371.60L118.91 383.20Z" fill="#ff00ff"/>
<path d="M113.09 377.40L123.59 371.60L123.59 383.20Z" fill="#ff00ff"/>
<path d="M117.78 377.40L128.28 371.60L128.28 383.20Z" fill="#ff00ff"/>
<path d="M122.47 377.40L132.97 371.60L132.97 383.20Z" fill="#ff00ff"/>
<path d="M127.16 377.40L137.66 371.60L137.66 383.20Z" fill="#ff00ff"/>
<path d="M131.84 377.40L142.34 371.60L142.34 383.20Z" fill="#ff00ff"/>
<path d="M136.53 377.40L147.03 371.60L147.03 383.20Z" fill="#ff00ff"/>
<path d="M141.22 377.40L151.72 371.60L151.72 383.20Z" fill="#ff00ff"/>
<path d="M145.90 377.40L156.40 371.60L156.40 383.20Z" fill="#ff00ff"/>
<path d="M150.59 377.40L161.09 371.60L161.09 383.20Z" fill="#ff00ff"/>
<path d="M155.28 377.40L165.78 371.60L165.78 383.20Z" fill="#ff00ff"/>
<path d="M159.96 377.40L170.46 371.60L170.46 383.20Z" fill="#ff00ff"/>
<path d="M164.65 376.52L175.15 370.72L175.15 382.32Z" fill="#ff00ff"/>
<path d="M169.34 375.54L179.84 369.74L179.84 381.34Z" fill="#ff00ff"/>
<path d="M174.02 373.09L184.52 367.29L184.52 378.89Z" fill="#ff00ff"/>
<path d="M178.71 369.66L189.21 363.86L189.21 375.46Z" fill="#ff00ff"/>
<path d="M183.40 365.74L193.90 359.94L193.90 371.54Z" fill="#ff00ff"/>
<path d="M188.08 361.33L198.58 355.53L198.58 367.13Z" fill="#ff00ff"/>
<path d="M192.77 355.45L203.27 349.65L203.27 361.25Z" fill="#ff00ff"/>
<path d="M197.46 348.10L207.96 342.30L207.96 353.90Z" fill="#ff00ff"/>
<path d="M202.15 338.99L212.65 333.19L212.65 344.79Z" fill="#ff00ff"/>
<path d="M206.83 328.50L217.33 322.70L217.33 334.30Z" fill="#ff00ff"/>
<path d="M211.52 314.78L222.02 308.98L222.02 320.58Z" fill="#ff00ff"/>
<path d="M216.21 298.12L226.71 292.32L226.71 303.92Z" fill="#ff00ff"/>
<path d="M220.89 280.48L231.39 274.68L231.39 286.28Z" fill="#ff00ff"/>
<path d="M225.58 261.27L236.08 255.47L236.08 267.07Z" fill="#ff00ff"/>
<path d="M230.27 239.61L240.77 233.81L240.77 245.41Z" fill="#ff00ff"/>
<path d="M234.95 218.74L245.45 212.94L245.45 224.54Z" fill="#ff00ff"/>
<path d="M239.64 196.40L250.14 190.60L250.14 202.20Z" fill="#ff00ff"/>
<path d="M244.33 175.72L254.83 169.92L254.83 181.52Z" fill="#ff00ff"/>
<path d="M249.01 155.73L259.51 149.93L259.51 161.53Z" fill="#ff00ff"/>
<path d="M253.70 135.05L264.20 129.25L264.20 140.85Z" fill="#ff00ff"/>
<path d="M258.39 118.09L268.89 112.29L268.89 123.89Z" fill="#ff00ff"/>
<path d="M263.07 103.10L273.57 97.30L273.57 108.90Z" fill="#ff00ff"/>
<path d="M267.76 91.34L278.26 85.54L278.26 97.14Z" fill="#ff00ff"/>
<path d="M272.45 83.50L282.95 77.70L282.95 89.30Z" fill="#ff00ff"/>
<path d="M277.14 82.52L287.64 76.72L287.64 88.32Z" fill="#ff00ff"/>
<path d="M281.82 86.44L292.32 80.64L292.32 92.24Z" fill="#ff00ff"/>
<path d="M286.51 100.55L297.01 94.75L297.01 106.35Z" fill="#ff00ff"/>
<path d="M291.20 122.70L301.70 116.90L301.70 128.50Z" fill="#ff00ff"/>
<path d="M295.88 152.10L306.38 146.30L306.38 157.90Z" fill="#ff00ff"/>
<path d="M300.57 192.28L311.07 186.48L311.07 198.08Z" fill="#ff00ff"/>
<path d="M305.26 238.34L315.76 232.54L315.76 244.14Z" fill="#ff00ff"/>
<path d="M309.94 294.69L320.44 288.89L320.44 300.49Z" fill="#ff00ff"/>
<path d="M314.63 356.43L325.13 350.63L325.13 362.23Z" fill="#ff00ff"/>
<path d="M319.32 376.52L329.82 370.72L329.82 382.32Z" fill="#ff00ff"/>
<path d="M324.00 377.40L334.50 371.60L334.50 383.20Z" fill="#ff00ff"/>
<path d="M328.69 377.40L339.19 371.60L339.19 383.20Z" fill="#ff00ff"/>
<path d="M333.38 377.40L343.88 371.60L343.88 383.20Z" fill="#ff00ff"/>
<path d="M338.06 377.40L348.56 371.60L348.56 383.20Z" fill="#ff00ff"/>
<path d="M342.75 377.40L353.25 371.60L353.25 383.20Z" fill="#ff00ff"/>
<path d="M347.44 377.40L357.94 371.60L357.94 383.20Z" fill="#ff00ff"/>
<path d="M352.13 377.40L362.63 371.60L362.63 383.20Z" fill="#ff00ff"/>
<path d="M356.81 377.40L367.31 371.60L367.31 383.20Z" fill="#ff00ff"/>
<path d="M361.50 377.40L372.00 371.60L372.00 383.20Z" fill="#ff00ff"/>
<path d="M366.19 377.40L376.69 371.60L376.69 383.20Z" fill="#ff00ff"/>
<path d="M370.87 377.40L381.37 371.60L381.37 383.20Z" fill="#ff00ff"/>
<path d="M375.56 377.40L386.06 371.60L386.06 383.20Z" fill="#ff00ff"/>
<path d="M380.25 377.40L390.75 371.60L390.75 383.20Z" fill="#ff00ff"/>
<path d="M384.93 377.40L395.43 371.60L395.43 383.20Z" fill="#ff00ff"/>
<path d="M389.62 377.40L400.12 371.60L400.12 383.20Z" fill="#ff00ff"/>
<path d="M394.31 377.40L404.81 371.60L404.81 383.20Z" fill="#ff00ff"/>
<path d="M398.99 377.40L409.49 371.60L409.49 383.20Z" fill="#ff00ff"/>
<path d="M403.68 377.40L414.18 371.60L414.18 383.20Z" fill="#ff00ff"/>
<path d="M408.37 377.40L418.87 371.60L418.87 383.20Z" fill="#ff00ff"/>
<path d="M413.05 377.40L423.55 371.60L423.55 383.20Z" fill="#ff00ff"/>
<path d="M417.74 377.40L428.24 371.60L428.24 383.20Z" fill="#ff00ff"/>
<path d="M422.43 377.40L432.93 371.60L432.93 383.20Z" fill="#ff00ff"/>
<path d="M427.12 377.40L437.62 371.60L437.62 383.20Z" fill="#ff00ff"/>
<path d="M431.80 377.40L442.30 371.60L442.30 383.20Z" fill="#ff00ff"/>
<path d="M436.49 377.40L446.99 371.60L446.99 383.20Z" fill="#ff00ff"/>
<path d="M441.18 377.40L451.68 371.60L451.68 383.20Z" fill="#ff00ff"/>
<path d="M445.86 377.40L456.36 371.60L456.36 383.20Z" fill="#ff00ff"/>
<path d="M450.55 377.40L461.05 371.60L461.05 383.20Z" fill="#ff00ff"/>
<path d="M455.24 377.40L465.74 371.60L465.74 383.20Z" fill="#ff00ff"/>
<path d="M459.92 377.40L470.42 371.60L470.42 383.20Z" fill="#ff00ff"/>
<path d="M464.61 377.40L475.11 371.60L475.11 383.20Z" fill="#ff00ff"/>
<path d="M469.30 377.40L479.80 371.60L479.80 383.20Z" fill="#ff00ff"/>
<path d="M473.98 377.40L484.48 371.60L484.48 383.20Z" fill="#ff00ff"/>
<path d="M478.67 377.40L489.17 371.60L489.17 383.20Z" fill="#ff00ff"/>
<path d="M483.36 377.40L493.86 371.60L493.86 383.20Z" fill="#ff00ff"/>
<path d="M488.04 377.40L498.54 371.60L498.54 383.20Z" fill="#ff00ff"/>
<path d="M492.73 377.40L503.23 371.60L503.23 383.20Z" fill="#ff00ff"/>
<path d="M497.42 377.40L507.92 371.60L507.92 383.20Z" fill="#ff00ff"/>
<path d="M502.11 377.40L512.61 371.60L512.61 383.20Z" fill="#ff00ff"/>
<path d="M506.79 377.40L517.29 371.60L517.29 383.20Z" fill="#ff00ff"/>
<path d="M511.48 377.40L521.98 371.60L521.98 383.20Z" fill="#ff00ff"/>
<path d="M516.17 377.40L526.67 371.60L526.67 383.20Z" fill="#ff00ff"/>
<path d="M520.85 377.40L531.35 371.60L531.35 383.20Z" fill="#ff00ff"/>
<path d="M525.54 377.40L536.04 371.60L536.04 383.20Z" fill="#ff00ff"/>
<path d="M530.23 377.40L540.73 371.60L540.73 383.20Z" fill="#ff00ff"/>
<path d="M534.91 377.40L545.41 371.60L545.41 383.20Z" fill="#ff00ff"/>
<path d="M539.60 377.40L550.10 371.60L550.10 383.20Z" fill="#ff00ff"/>
</g>
<g stroke="#000" stroke-width="1" shape-rendering="crispEdges">
<rect x="81.5" y="34.5" width="468" height="343" fill="none"/>
<line x1="74" y1="377.5" x2="81" y2="377.5"/>
<line x1="77" y1="353.0" x2="81" y2="353.0"/>
<line x1="74" y1="328.5" x2="81" y2="328.5"/>
<line x1="77" y1="304.0" x2="81" y2="304.0"/>
<line x1="74" y1="279.5" x2="81" y2="279.5"/>
<line x1="77" y1="255.0" x2="81" y2="255.0"/>
<line x1="74" y1="230.5" x2="81" y2="230.5"/>
<line x1="77" y1="206.0" x2="81" y2="206.0"/>
<line x1="74" y1="181.5" x2="81" y2="181.5"/>
<line x1="77" y1="157.0" x2="81" y2="157.0"/>
<line x1="74" y1="132.5" x2="81" y2="132.5"/>
<line x1="77" y1="108.0" x2="81" y2="108.0"/>
<line x1="74" y1="83.5" x2="81" y2="83.5"/>
<line x1="77" y1="59.0" x2="81" y2="59.0"/>
<line x1="74" y1="34.5" x2="81" y2="34.5"/>
<line x1="81.5" y1="377" x2="81.5" y2="385"/>
<line x1="104.5" y1="377" x2="104.5" y2="381"/>
<line x1="118.5" y1="377" x2="118.5" y2="381"/>
<line x1="128.5" y1="377" x2="128.5" y2="381"/>
<line x1="135.5" y1="377" x2="135.5" y2="381"/>
<line x1="141.5" y1="377" x2="141.5" y2="381"/>
<line x1="146.5" y1="377" x2="146.5" y2="381"/>
<line x1="151.5" y1="377" x2="151.5" y2="381"/>
<line x1="155.5" y1="377" x2="155.5" y2="381"/>
<line x1="158.5" y1="377" x2="158.5" y2="385"/>
<line x1="182.5" y1="377" x2="182.5" y2="381"/>
<line x1="195.5" y1="377" x2="195.5" y2="381"/>
<line x1="205.5" y1="377" x2="205.5" y2="381"/>
<line x1="212.5" y1="377" x2="212.5" y2="381"/>
<line x1="219.5" y1="377" x2="219.5" y2="381"/>
<line x1="224.5" y1="377" x2="224.5" y2="381"/>
<line x1="228.5" y1="377" x2="228.5" y2="381"/>
<line x1="232.5" y1="377" x2="232.5" y2="381"/>
<line x1="236.5" y1="377" x2="236.5" y2="385"/>
<line x1="259.5" y1="377" x2="259.5" y2="381"/>
<line x1="273.5" y1="377" x2="273.5" y2="381"/>
<line x1="282.5" y1="377" x2="282.5" y2="381"/>
<line x1="290.5" y1="377" x2="290.5" y2="381"/>
<line x1="296.5" y1="377" x2="296.5" y2="381"/>
<line x1="301.5" y1="377" x2="301.5" y2="381"/>
<line x1="306.5" y1="377" x2="306.5" y2="381"/>
<line x1="309.5" y1="377" x2="309.5" y2="381"/>
<line x1="313.5" y1="377" x2="313.5" y2="385"/>
<line x1="336.5" y1="377" x2="336.5" y2="381"/>
<line x1="350.5" y1="377" x2="350.5" y2="381"/>
<line x1="360.5" y1="377" x2="360.5" y2="381"/>
<line x1="367.5" y1="377" x2="367.5" y2="381"/>
<line x1="373.5" y1="377" x2="373.5" y2="381"/>
<line x1="378.5" y1="377" x2="378.5" y2="381"/>
<line x1="383.5" y1="377" x2="383.5" y2="381"/>
<line x1="387.5" y1="377" x2="387.5" y2="381"/>
<line x1="390.5" y1="377" x2="390.5" y2="385"/>
<line x1="414.5" y1="377" x2="414.5" y2="381"/>
<line x1="427.5" y1="377" x2="427.5" y2="381"/>
<line x1="437.5" y1="377" x2="437.5" y2="381"/>
<line x1="444.5" y1="377" x2="444.5" y2="381"/>
<line x1="451.5" y1="377" x2="451.5" y2="381"/>
<line x1="456.5" y1="377" x2="456.5" y2="381"/>
<line x1="460.5" y1="377" x2="460.5" y2="381"/>
<line x1="464.5" y1="377" x2="464.5" y2="381"/>
<line x1="468.5" y1="377" x2="468.5" y2="385"/>
<line x1="491.5" y1="377" x2="491.5" y2="381"/>
<line x1="505.5" y1="377" x2="505.5" y2="381"/>
<line x1="514.5" y1="377" x2="514.5" y2="381"/>
<line x1="522.5" y1="377" x2="522.5" y2="381"/>
<line x1="528.5" y1="377" x2="528.5" y2="381"/>
<line x1="533.5" y1="377" x2="533.5" y2="381"/>
<line x1="538.5" y1="377" x2="538.5" y2="381"/>
<line x1="541.5" y1="377" x2="541.5" y2="381"/>
<line x1="545.5" y1="377" x2="545.5" y2="385"/>
</g>
<g class="tl">
<text x="69" y="381.3" text-anchor="end">0</text><text x="69" y="332.3" text-anchor="end">50</text><text x="69" y="283.3" text-anchor="end">100</text><text x="69" y="234.3" text-anchor="end">150</text><text x="69" y="185.3" text-anchor="end">200</text><text x="69" y="136.3" text-anchor="end">250</text><text x="69" y="87.3" text-anchor="end">300</text><text x="69" y="38.3" text-anchor="end">350</text>
<text x="80.0" y="399" text-anchor="middle">0.01</text><text x="157.8" y="399" text-anchor="middle">0.1</text><text x="235.2" y="399" text-anchor="middle">1</text><text x="312.5" y="399" text-anchor="middle">10</text><text x="389.8" y="399" text-anchor="middle">100</text><text x="467.2" y="399" text-anchor="middle">1000</text><text x="544.5" y="399" text-anchor="middle">10000</text>
</g>
<g class="lg" shape-rendering="crispEdges">
<line x1="399" y1="98.5" x2="437" y2="98.5" stroke="#000000" stroke-width="1"/>
<rect x="414.00" y="94.50" width="8" height="8" fill="#000000"/>
<text x="442" y="104">TE=0.06ms</text>
<line x1="399" y1="119.5" x2="437" y2="119.5" stroke="#ff0000" stroke-width="1"/>
<circle cx="418.00" cy="119.50" r="3.8" fill="#ff0000"/>
<text x="442" y="125">TE=0.12ms</text>
<line x1="399" y1="140.5" x2="437" y2="140.5" stroke="#0000ff" stroke-width="1"/>
<path d="M418.00 135.10L423.70 145.40L412.30 145.40Z" fill="#0000ff"/>
<text x="442" y="146">TE=0.2ms</text>
<line x1="399" y1="161.5" x2="437" y2="161.5" stroke="#008080" stroke-width="1"/>
<path d="M412.30 156.60L423.70 156.60L418.00 166.40Z" fill="#008080"/>
<text x="442" y="167">TE=0.3ms</text>
<line x1="399" y1="181.5" x2="437" y2="181.5" stroke="#ff00ff" stroke-width="1"/>
<path d="M412.60 181.50L423.10 175.70L423.10 187.30Z" fill="#ff00ff"/>
<text x="442" y="187">TE=0.6ms</text>
</g>
<text class="ti" x="205.5" y="31" letter-spacing="1">页岩不同</text><text class="ti" x="295.5" y="31" style="font-weight:normal">TE</text><text class="ti" x="320" y="31" letter-spacing="0.7">下弛豫谱图</text>
<text class="yl" transform="translate(30,278) rotate(-90)">信号幅值</text>
<g class="xl"><text x="274" y="429" font-style="italic">T</text><text x="284.3" y="436.6" font-size="12">2</text><text x="290.6" y="429">(</text><text x="311" y="429">m</text><text x="328.3" y="429">s</text><text x="335.2" y="429">)</text></g>
</svg>
</body></html>
